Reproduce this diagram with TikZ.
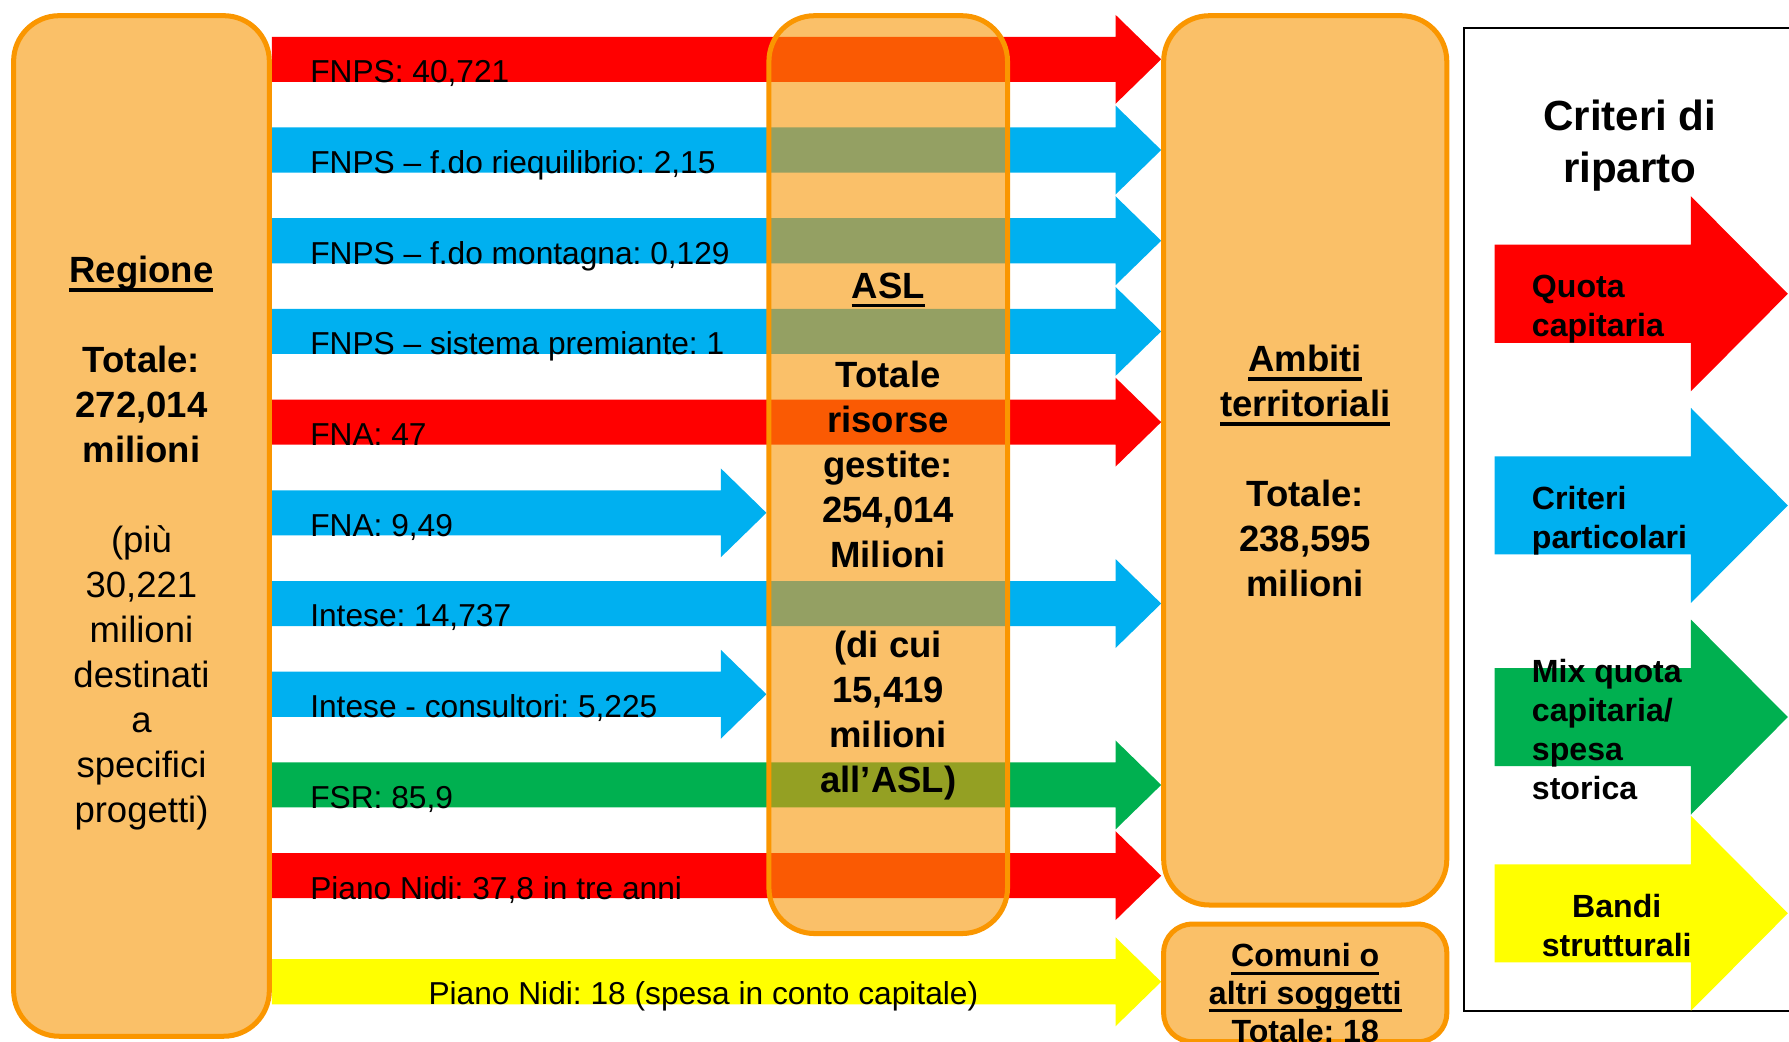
\documentclass[tikz,border=0pt]{standalone}
\usepackage{fontspec}
\setmainfont{Liberation Sans}
\usetikzlibrary{calc,backgrounds}
\frenchspacing

\definecolor{orline}{RGB}{250,150,0}
\definecolor{orfill}{RGB}{250,192,104}
\definecolor{aslfill}{RGB}{247,150,5}
\definecolor{fred}{RGB}{255,0,0}
\definecolor{fblue}{RGB}{0,176,240}
\definecolor{fgreen}{RGB}{0,176,80}
\definecolor{fyellow}{RGB}{255,255,0}

\newsavebox\ulbox
\newcommand{\undl}[1]{\sbox\ulbox{#1}\rlap{\rule[-0.24em]{\wd\ulbox}{0.09em}}\usebox\ulbox}

\tikzset{
  ente/.style={draw=orline,line width=1.25pt,fill=orfill,rounded corners=0.4cm,inner sep=0pt},
  lab/.style={font=\fontsize{7.9}{9}\selectfont,inner sep=0pt},
  big/.style={font=\fontsize{9.1}{11.2}\selectfont,align=center,inner sep=0pt},
  small/.style={font=\fontsize{8}{9.4}\selectfont\bfseries,align=center,inner sep=0pt},
  legtitle/.style={font=\fontsize{10.5}{13.1}\selectfont\bfseries,align=center,inner sep=0pt},
  legtext/.style={font=\fontsize{8}{9.7}\selectfont\bfseries,align=left,inner sep=0pt,anchor=west}
}

\begin{document}
\begin{tikzpicture}[x=0.01cm,y=-0.01cm]
  \useasboundingbox (0,0) rectangle (1568,913);

  % enti
  \node[ente,minimum width=2.24cm,minimum height=8.94cm] (reg) at (124,461) {};
  \node[ente,minimum width=2.48cm,minimum height=7.79cm] (amb) at (1144,403.5) {};
  \node[ente,rounded corners=0.25cm,minimum width=2.48cm,minimum height=1.03cm] (com) at (1144,861.5) {};
  \node[ente,fill=aslfill,fill opacity=0.6,draw opacity=1,minimum width=2.09cm,minimum height=8.04cm] (asl) at (778.5,416) {};

  % flussi
  \begin{scope}[on background layer]
    \foreach \col/\tgt/\lab [count=\k] in {
      fred/amb/{FNPS: 40,721},
      fblue/amb/{FNPS – f.do riequilibrio: 2,15},
      fblue/amb/{FNPS – f.do montagna: 0,129},
      fblue/amb/{FNPS – sistema premiante: 1},
      fred/amb/{FNA: 47},
      fblue/asl/{FNA: 9,49},
      fblue/amb/{Intese: 14,737},
      fblue/asl/{Intese - consultori: 5,225},
      fgreen/amb/{FSR: 85,9},
      fred/amb/{Piano Nidi: 37,8 in tre anni}} {
      \pgfmathsetmacro\yc{52+79.5*(\k-1)}
      \coordinate (y\k) at (0,\yc);
      \coordinate (s\k) at (reg.east |- y\k);
      \coordinate (e\k) at (\tgt.west |- y\k);
      \fill[\col] ($(s\k)+(0,-19.75)$) -- ($(e\k)+(-40,-19.75)$) -- ($(e\k)+(-40,-39)$)
        -- (e\k) -- ($(e\k)+(-40,39)$) -- ($(e\k)+(-40,19.75)$) -- ($(s\k)+(0,19.75)$) -- cycle;
      \node[lab,anchor=base west] (f\k) at ($(s\k)+(33,20.5)$) {\lab};
    }
    \coordinate (y11) at (0,860.5);
    \coordinate (s11) at (reg.east |- y11);
    \coordinate (e11) at (com.west |- y11);
    \fill[fyellow] ($(s11)+(0,-19.75)$) -- ($(e11)+(-40,-19.75)$) -- ($(e11)+(-40,-39)$)
      -- (e11) -- ($(e11)+(-40,39)$) -- ($(e11)+(-40,19.75)$) -- ($(s11)+(0,19.75)$) -- cycle;
    \node[lab,anchor=base] (f11) at (616.5,880.5) {Piano Nidi: 18 (spesa in conto capitale)};
  \end{scope}

  % testi
  \node[big] (regtxt) at ($(reg.center)+(0,15)$) {\textbf{\undl{Regione}}\\[11.2pt]
    \textbf{Totale:}\\ \textbf{272,014}\\ \textbf{milioni}\\[11.2pt]
    (più\\ 30,221\\ milioni\\ destinati\\ a\\ specifici\\ progetti)};
  \node[big,font=\fontsize{9.1}{11.2}\selectfont\bfseries] (asltxt) at ($(asl.center)+(0,54)$) {\undl{ASL}\\[11.2pt]
    Totale\\ risorse\\ gestite:\\ 254,014\\ Milioni\\[11.2pt]
    (di cui\\ 15,419\\ milioni\\ all’ASL)};
  \node[big,font=\fontsize{9.1}{11.2}\selectfont\bfseries] (ambtxt) at ($(amb.center)+(0,9.5)$) {\undl{Ambiti}\\ \undl{territoriali}\\[11.2pt]
    Totale:\\ 238,595\\ milioni};
  \node[small] (comtxt) at ($(com.center)+(0,9)$) {\undl{Comuni o}\\ \undl{altri soggetti}\\ Totale: 18};

  % criteri di riparto
  \node[draw,line width=0.5pt,inner sep=0pt,minimum width=3.17cm,minimum height=8.61cm] (crit) at (1441.5,455.5) {};
  \node[legtitle] (crittit) at (1428.5,127.5) {Criteri di\\ riparto};
  \foreach \yc/\col in {257.5/fred,443/fblue,628.5/fgreen,800.5/fyellow}
    \fill[\col] (1310,\yc-43) -- (1482,\yc-43) -- (1482,\yc-85.5) -- (1567,\yc)
      -- (1482,\yc+85.5) -- (1482,\yc+43) -- (1310,\yc+43) -- cycle;
  \node[legtext] (quota) at (1342,271) {Quota\\ capitaria};
  \node[legtext] (partic) at (1342,456.5) {Criteri\\ particolari};
  \node[legtext] (mix) at (1342,639.5) {Mix quota\\ capitaria/\\ spesa\\ storica};
  \node[legtext,anchor=center,align=center] (bandi) at (1417,811.5) {Bandi\\ strutturali};
\end{tikzpicture}
\end{document}
